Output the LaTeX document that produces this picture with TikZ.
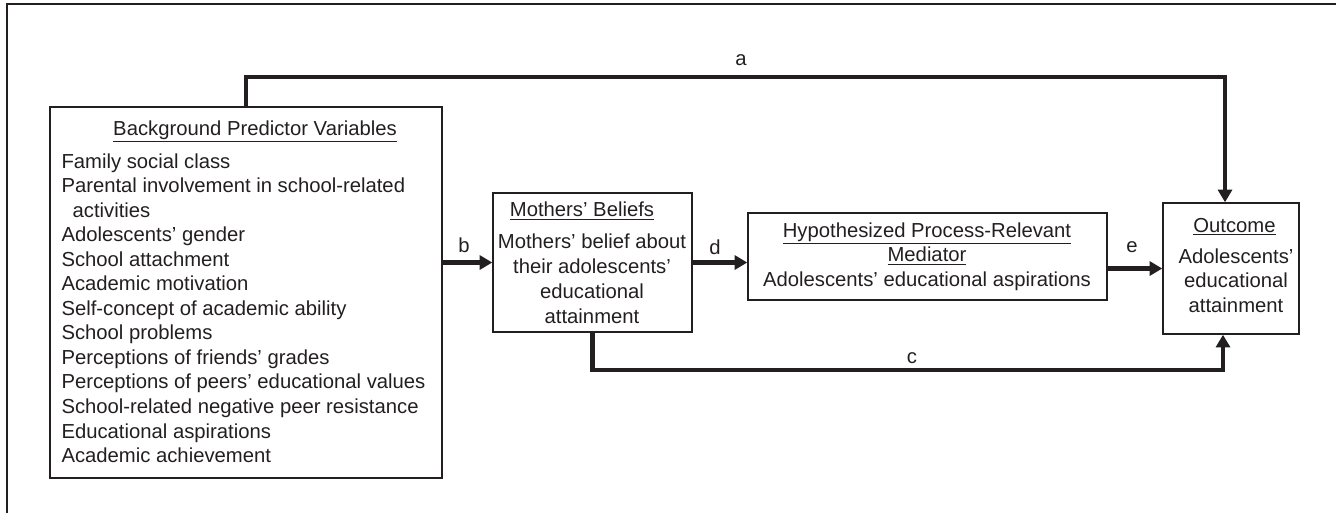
\documentclass[tikz,border=0pt]{standalone}
\usepackage{fontspec}
\setmainfont{Liberation Sans}
\usetikzlibrary{arrows.meta}

\definecolor{ink}{HTML}{231F20}
\newcommand{\figfont}{\fontsize{15.2}{18.4}\selectfont}

\tikzset{every picture/.style={line width=0.75pt}}
\tikzset{
  box/.style={draw=ink, line width=1.1pt, inner sep=0pt},
  conn/.style={draw=ink, line width=3.5pt, -{Triangle[length=9.5pt,width=10.5pt]}},
  txt/.style={inner sep=0pt, font=\figfont, text=ink},
}

\begin{document}
\begin{tikzpicture}[x=0.75pt,y=0.75pt,yscale=-1,xscale=1]
\useasboundingbox (0,0) rectangle (1336,512);

%Shape: Frame
\draw[ink, line width=1.5pt] (7,516) -- (7,4) -- (1340,4);

%Shape: Boxes
\node[box, minimum width=294pt, minimum height=278.25pt] (bg) at (246,292.5) {};
\node[box, minimum width=149.25pt, minimum height=104.25pt] (mothers) at (592.5,262.5) {};
\node[box, minimum width=269.25pt, minimum height=65.25pt] (mediator) at (927.5,256.5) {};
\node[box, minimum width=102pt, minimum height=98.25pt] (outcome) at (1231,268.5) {};

% Text Node
\node[txt, anchor=base] (bgtitle) at (255,135) {\underline{Background Predictor Variables}};
% Text Node
\node[txt, anchor=north west, align=left] (bglist) at (61,153) {Family social class\\
Parental involvement in school-related\\
\hspace*{0.55em}activities\\
Adolescents’ gender\\
School attachment\\
Academic motivation\\
Self-concept of academic ability\\
School problems\\
Perceptions of friends’ grades\\
Perceptions of peers’ educational values\\
School-related negative peer resistance\\
Educational aspirations\\
Academic achievement};
% Text Node
\node[txt, anchor=base] (mtitle) at (582,216.7) {\underline{Mothers’ Beliefs}};
% Text Node
\node[txt, anchor=north, align=center, font=\fontsize{15.2}{18.8}\selectfont] (mbody) at (592,233) {Mothers’ belief about\\their adolescents’\\educational\\attainment};
% Text Node
\node[txt, anchor=north, align=center] (medtext) at (927,222) {\underline{Hypothesized Process-Relevant}\\\underline{Mediator}\\Adolescents’ educational aspirations};
% Text Node
\node[txt, anchor=base] (otitle) at (1234.5,232) {\underline{Outcome}};
% Text Node
\node[txt, anchor=north, align=center] (obody) at (1236,248) {Adolescents’\\educational\\attainment};

%Connectors
\coordinate (aR) at (1225,77);
\coordinate (cR) at (1223,370);
\draw[conn] (bg.north) |- (aR) -- (aR |- outcome.north);
\draw[conn] (bg.east |- mothers.center) -- (mothers.west);
\draw[conn] (mothers.south) |- (cR) -- (cR |- outcome.south);
\draw[conn] (mothers.east) -- (mothers.east -| mediator.west);
\draw[conn] (outcome.west -| mediator.east) -- (outcome.west);

% Labels
\node[txt] (la) at (741,60) {a};
\node[txt] (lb) at (464,245) {b};
\node[txt] (lc) at (912,358) {c};
\node[txt] (ld) at (715,247) {d};
\node[txt] (le) at (1132,247) {e};
\end{tikzpicture}
\end{document}
